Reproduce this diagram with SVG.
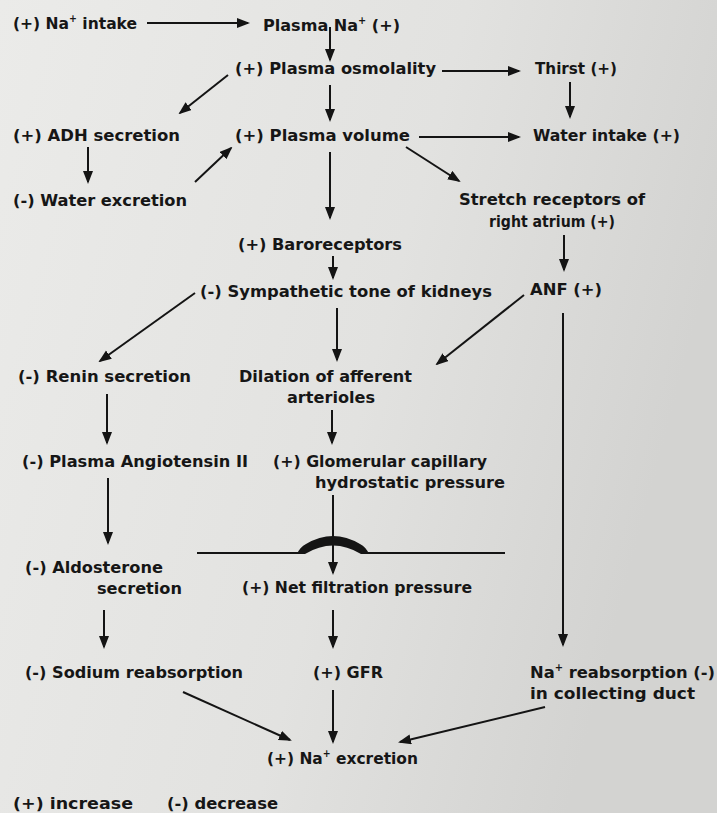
<svg xmlns="http://www.w3.org/2000/svg" width="717" height="813" viewBox="0 0 717 813">
<defs>
<linearGradient id="bg" x1="0" y1="0" x2="1" y2="0.3">
<stop offset="0" stop-color="#ebebe9"/>
<stop offset="0.6" stop-color="#e2e2e0"/>
<stop offset="1" stop-color="#d3d3d1"/>
</linearGradient>
<marker id="ah" markerUnits="userSpaceOnUse" markerWidth="13" markerHeight="11" refX="11" refY="5" orient="auto">
<path d="M0,0 L13,5 L0,10 Z" fill="#141414"/>
</marker>
</defs>
<style>
text{font-family:"DejaVu Sans Condensed","DejaVu Sans","Liberation Sans",sans-serif;font-weight:bold;font-size:16.5px;fill:#161616}
.sup{font-size:10px}
#connectors line,#connectors path.l{stroke:#141414;stroke-width:2;fill:none}
#connectors line{marker-end:url(#ah)}
</style>
<rect width="717" height="813" fill="url(#bg)"/>
<g id="connectors">
<line x1="147" y1="23" x2="248" y2="23"/>
<line x1="330" y1="27" x2="330" y2="60"/>
<line x1="442" y1="71" x2="519" y2="71"/>
<line x1="228" y1="75" x2="180" y2="113"/>
<line x1="330" y1="85" x2="330" y2="120"/>
<line x1="570" y1="82" x2="570" y2="117"/>
<line x1="419" y1="137" x2="519" y2="137"/>
<line x1="88" y1="147" x2="88" y2="182"/>
<line x1="195" y1="182" x2="231" y2="148"/>
<line x1="330" y1="152" x2="330" y2="218"/>
<line x1="406" y1="147" x2="459" y2="181"/>
<line x1="564" y1="235" x2="564" y2="270"/>
<line x1="333" y1="256" x2="333" y2="278"/>
<line x1="195" y1="293" x2="100" y2="361"/>
<line x1="337" y1="308" x2="337" y2="360"/>
<line x1="524" y1="295" x2="437" y2="364"/>
<line x1="563" y1="313" x2="563" y2="645"/>
<line x1="107" y1="394" x2="107" y2="443"/>
<line x1="332" y1="410" x2="332" y2="443"/>
<line x1="108" y1="478" x2="108" y2="543"/>
<path class="l" d="M197,553 L300,553 M366,553 L505,553"/>
<path d="M297,554 Q300,547 306,544 Q333,528 360,544 Q366,547 369,554 L361,554 Q333,537 305,554 Z" fill="#141414"/>
<line x1="333" y1="495" x2="333" y2="573"/>
<line x1="104" y1="610" x2="104" y2="647"/>
<line x1="333" y1="610" x2="333" y2="647"/>
<line x1="183" y1="692" x2="290" y2="740"/>
<line x1="333" y1="690" x2="333" y2="742"/>
<line x1="545" y1="707" x2="400" y2="742"/>
</g>
<g id="n1"><text x="13" y="29" textLength="124" lengthAdjust="spacingAndGlyphs">(+) Na<tspan class="sup" dy="-7">+</tspan><tspan dy="7"> intake</tspan></text></g>
<g id="n2"><text x="263" y="31" textLength="137" lengthAdjust="spacingAndGlyphs">Plasma Na<tspan class="sup" dy="-7">+</tspan><tspan dy="7"> (+)</tspan></text></g>
<g id="n3"><text x="235" y="74" textLength="201" lengthAdjust="spacingAndGlyphs">(+) Plasma osmolality</text></g>
<g id="n4"><text x="535" y="74" textLength="82" lengthAdjust="spacingAndGlyphs">Thirst (+)</text></g>
<g id="n5"><text x="13" y="141" textLength="167" lengthAdjust="spacingAndGlyphs">(+) ADH secretion</text></g>
<g id="n6"><text x="235" y="141" textLength="175" lengthAdjust="spacingAndGlyphs">(+) Plasma volume</text></g>
<g id="n7"><text x="533" y="141" textLength="147" lengthAdjust="spacingAndGlyphs">Water intake (+)</text></g>
<g id="n8"><text x="13" y="206" textLength="174" lengthAdjust="spacingAndGlyphs">(-) Water excretion</text></g>
<g id="n9"><text x="459" y="205" textLength="186" lengthAdjust="spacingAndGlyphs">Stretch receptors of</text><text x="489" y="227" textLength="126" lengthAdjust="spacingAndGlyphs">right atrium (+)</text></g>
<g id="n10"><text x="238" y="250" textLength="164" lengthAdjust="spacingAndGlyphs">(+) Baroreceptors</text></g>
<g id="n11"><text x="200" y="297" textLength="292" lengthAdjust="spacingAndGlyphs">(-) Sympathetic tone of kidneys</text></g>
<g id="n12"><text x="530" y="295" textLength="72" lengthAdjust="spacingAndGlyphs">ANF (+)</text></g>
<g id="n13"><text x="18" y="382" textLength="173" lengthAdjust="spacingAndGlyphs">(-) Renin secretion</text></g>
<g id="n14"><text x="239" y="382" textLength="173" lengthAdjust="spacingAndGlyphs">Dilation of afferent</text><text x="287" y="403" textLength="88" lengthAdjust="spacingAndGlyphs">arterioles</text></g>
<g id="n15"><text x="22" y="467" textLength="226" lengthAdjust="spacingAndGlyphs">(-) Plasma Angiotensin II</text></g>
<g id="n16"><text x="273" y="467" textLength="214" lengthAdjust="spacingAndGlyphs">(+) Glomerular capillary</text><text x="315" y="488" textLength="190" lengthAdjust="spacingAndGlyphs">hydrostatic pressure</text></g>
<g id="n17"><text x="25" y="573" textLength="138" lengthAdjust="spacingAndGlyphs">(-) Aldosterone</text><text x="97" y="594" textLength="85" lengthAdjust="spacingAndGlyphs">secretion</text></g>
<g id="n18"><text x="242" y="593" textLength="230" lengthAdjust="spacingAndGlyphs">(+) Net filtration pressure</text></g>
<g id="n19"><text x="25" y="678" textLength="218" lengthAdjust="spacingAndGlyphs">(-) Sodium reabsorption</text></g>
<g id="n20"><text x="313" y="678" textLength="70" lengthAdjust="spacingAndGlyphs">(+) GFR</text></g>
<g id="n21"><text x="530" y="678" textLength="185" lengthAdjust="spacingAndGlyphs">Na<tspan class="sup" dy="-7">+</tspan><tspan dy="7"> reabsorption (-)</tspan></text><text x="530" y="699" textLength="165" lengthAdjust="spacingAndGlyphs">in collecting duct</text></g>
<g id="n22"><text x="267" y="764" textLength="151" lengthAdjust="spacingAndGlyphs">(+) Na<tspan class="sup" dy="-7">+</tspan><tspan dy="7"> excretion</tspan></text></g>
<g id="legend"><text x="13" y="809" textLength="120" lengthAdjust="spacingAndGlyphs">(+) increase</text><text x="167" y="809" textLength="111" lengthAdjust="spacingAndGlyphs">(-) decrease</text></g>
</svg>
